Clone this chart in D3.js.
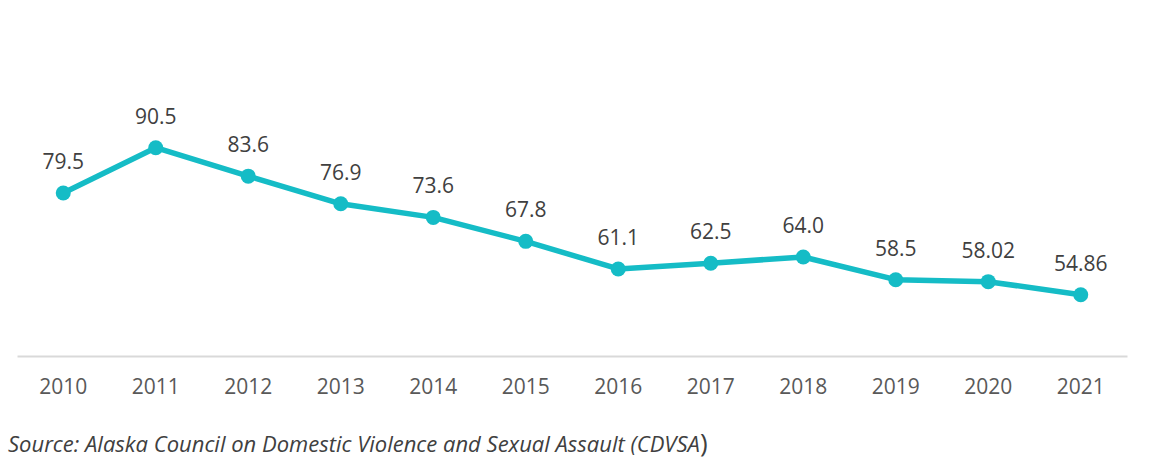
<!DOCTYPE html>
<html>
<head>
<meta charset="utf-8">
<script src="https://cdn.jsdelivr.net/npm/d3@7"></script>
<style>
  html, body { margin: 0; padding: 0; background: #fff; }
  svg { display: block; }
</style>
</head>
<body>
<div id="chart"></div>
<script>
const years = ["2010", "2011", "2012", "2013", "2014", "2015", "2016", "2017", "2018", "2019", "2020", "2021"];
const rates = [79.5, 90.5, 83.6, 76.9, 73.6, 67.8, 61.1, 62.5, 64.0, 58.5, 58.02, 54.86];
const rateLabels = ["79.5", "90.5", "83.6", "76.9", "73.6", "67.8", "61.1", "62.5", "64.0", "58.5", "58.02", "54.86"];
const sourceText = "Source: Alaska Council on Domestic Violence and Sexual Assault (CDVSA";

const width = 1158, height = 464;
const lineColor = "#15bcc6";
const font = "'Open Sans', 'Noto Sans', sans-serif";

const svg = d3.select("#chart").append("svg")
  .attr("width", width)
  .attr("height", height);

const x = d3.scaleBand()
  .domain(years)
  .range([17, 1127]);

const y = d3.scaleLinear()
  .domain([40, 100])
  .range([356, 108.5]);

// baseline axis
const xAxis = svg.append("g")
  .attr("transform", `translate(0,${y(40)})`)
  .call(d3.axisBottom(x).tickSize(0).tickPadding(23));
xAxis.select(".domain")
  .attr("stroke", "#d9d9d9")
  .attr("stroke-width", 2);
xAxis.selectAll("text")
  .attr("font-family", font)
  .attr("font-size", 21)
  .attr("fill", "#595959");

const cx = d => x(d.year) + x.bandwidth() / 2;
const points = years.map((yr, i) => ({ year: yr, value: rates[i], label: rateLabels[i] }));

svg.append("path")
  .datum(points)
  .attr("fill", "none")
  .attr("stroke", lineColor)
  .attr("stroke-width", 5.5)
  .attr("stroke-linejoin", "round")
  .attr("d", d3.line().x(cx).y(d => y(d.value)));

svg.append("g").selectAll("circle")
  .data(points)
  .join("circle")
  .attr("cx", cx)
  .attr("cy", d => y(d.value))
  .attr("r", 7.5)
  .attr("fill", lineColor);

svg.append("g").selectAll("text")
  .data(points)
  .join("text")
  .attr("x", cx)
  .attr("y", d => y(d.value) - 24)
  .attr("text-anchor", "middle")
  .attr("font-family", font)
  .attr("font-size", 21)
  .attr("fill", "#404040")
  .text(d => d.label);

// source note
const src = svg.append("text")
  .attr("x", 8)
  .attr("y", 452)
  .attr("font-family", font)
  .attr("font-size", 22)
  .attr("fill", "#404040");
src.append("tspan").attr("font-style", "italic").text(sourceText);
src.append("tspan").attr("font-size", 26).text(")");
</script>
</body>
</html>
